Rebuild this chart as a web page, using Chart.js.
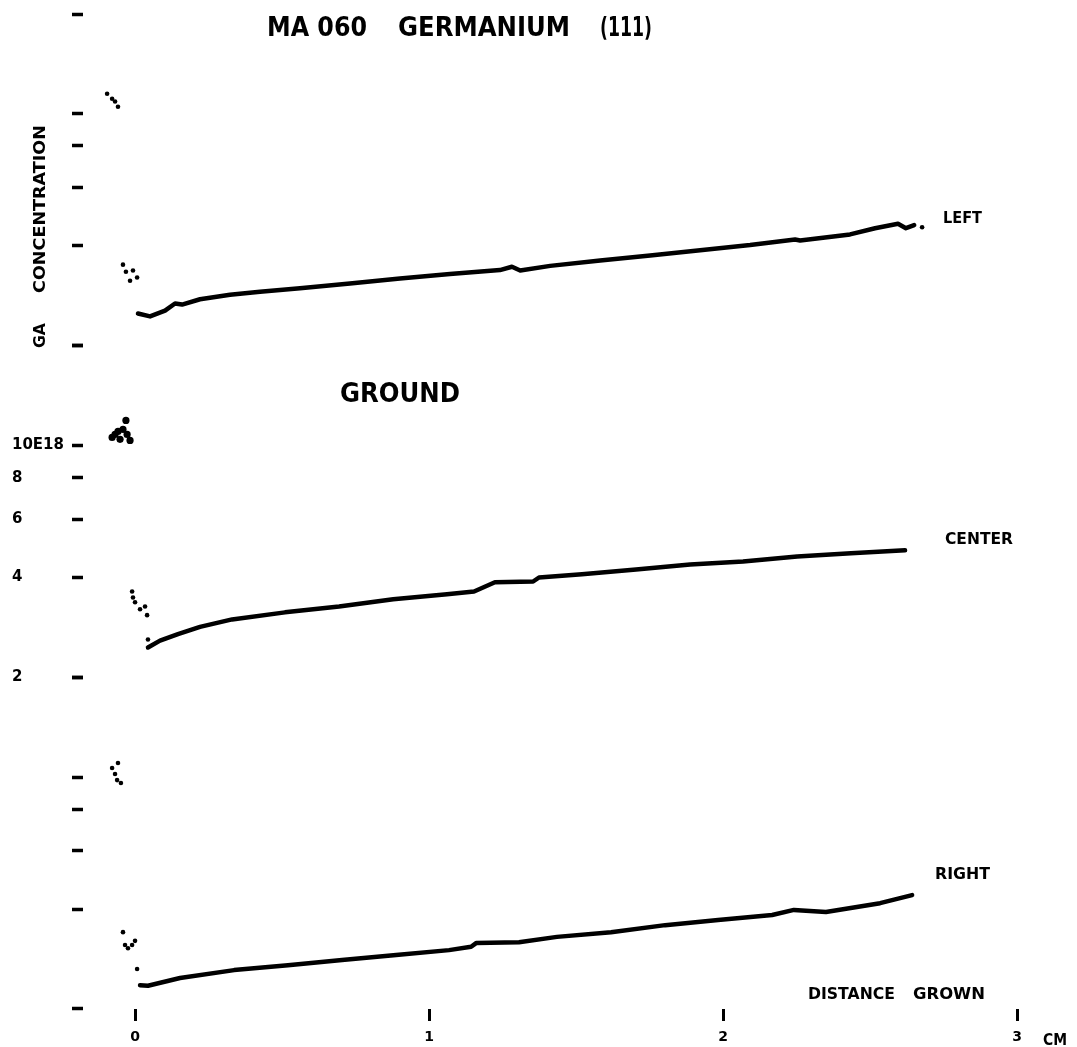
<!DOCTYPE html>
<html>
<head>
<meta charset="utf-8">
<title>MA 060 Germanium (111)</title>
<script src="https://cdn.jsdelivr.net/npm/chart.js@4.4.1/dist/chart.umd.min.js"></script>
<style>
  html, body { margin: 0; padding: 0; background: #fff; }
  #wrap { position: relative; width: 1077px; height: 1047px; }
</style>
</head>
<body>
<div id="wrap"><canvas id="ga-chart"></canvas></div>
<script>
// distance grown (cm) vs Ga concentration (units of 1E18)

// LEFT trace
const leftX = [0.010, 0.051, 0.102, 0.136, 0.160, 0.221, 0.323, 0.425, 0.561, 0.731, 0.901, 1.071, 1.241, 1.282, 1.310, 1.412, 1.582, 1.752, 1.922, 2.092, 2.245, 2.262, 2.432, 2.517, 2.595, 2.622, 2.650]
const leftY = [2.50, 2.45, 2.55, 2.68, 2.66, 2.76, 2.85, 2.91, 2.98, 3.08, 3.19, 3.29, 3.38, 3.46, 3.37, 3.48, 3.61, 3.74, 3.88, 4.02, 4.18, 4.15, 4.33, 4.52, 4.66, 4.52, 4.62]
const leftDotX = [-0.095, -0.078, -0.068, -0.058, -0.041, -0.031, -0.017, -0.007, 0.007, 2.677]
const leftDotY = [11.5, 11.1, 10.9, 10.5, 3.51, 3.34, 3.14, 3.37, 3.21, 4.55]

// CENTER trace
const centerX = [0.044, 0.085, 0.146, 0.221, 0.330, 0.510, 0.694, 0.878, 1.061, 1.153, 1.224, 1.354, 1.374, 1.520, 1.704, 1.888, 2.068, 2.252, 2.435, 2.619]
const centerY = [2.46, 2.58, 2.70, 2.84, 2.99, 3.14, 3.27, 3.44, 3.56, 3.63, 3.87, 3.89, 4.00, 4.09, 4.23, 4.38, 4.47, 4.63, 4.73, 4.83]
const centerDotX = [-0.078, -0.068, -0.058, -0.051, -0.041, -0.031, -0.027, -0.017, -0.010, -0.007, 0.000, 0.017, 0.034, 0.041, 0.044]
const centerDotY = [10.58, 10.8, 11.03, 10.44, 11.18, 11.9, 10.8, 10.36, 3.63, 3.48, 3.37, 3.21, 3.27, 3.08, 2.60]

// RIGHT trace
const rightX = [0.017, 0.044, 0.153, 0.337, 0.520, 0.704, 0.888, 1.068, 1.143, 1.160, 1.306, 1.435, 1.619, 1.803, 1.983, 2.167, 2.241, 2.350, 2.534, 2.643]
const rightY = [2.36, 2.35, 2.48, 2.62, 2.71, 2.81, 2.91, 3.01, 3.08, 3.16, 3.18, 3.30, 3.41, 3.58, 3.71, 3.84, 3.98, 3.92, 4.17, 4.41]
const rightDotX = [-0.078, -0.068, -0.061, -0.058, -0.048, -0.041, -0.034, -0.024, -0.010, 0.000, 0.007]
const rightDotY = [10.66, 10.22, 9.80, 11.03, 9.60, 3.41, 3.12, 3.05, 3.12, 3.21, 2.64]

// axes
const xTickValues = [0, 1, 2, 3]
const yTickValues = [2, 4, 6, 8, 10, 20]
const yTickLabels = ['2', '4', '6', '8', '10E18', '']

// text on the sheet (pixel spans on the 1077x1047 page)
const notes = [
  { text: 'MA 060', left: 267, right: 367, y: 27, size: 26 },
  { text: 'GERMANIUM', left: 398, right: 570, y: 27, size: 26 },
  { text: '(111)', left: 600, right: 652, y: 27, size: 26 },
  { text: 'GROUND', left: 340, right: 460, y: 393, size: 26 },
  { text: 'LEFT', left: 943, right: 982, y: 218, size: 15 },
  { text: 'CENTER', left: 945, right: 1013, y: 539, size: 15 },
  { text: 'RIGHT', left: 935, right: 990, y: 874, size: 15 },
  { text: 'DISTANCE', left: 808, right: 895, y: 994, size: 15 },
  { text: 'GROWN', left: 913, right: 985, y: 994, size: 15 },
  { text: 'CM', left: 1043, right: 1067, y: 1040, size: 15 },
  { text: 'GA', bottom: 348, top: 323, x: 39, size: 16, vertical: true },
  { text: 'CONCENTRATION', bottom: 293, top: 125, x: 39, size: 16, vertical: true }
]

const FONT = '"DejaVu Sans", "Liberation Sans", sans-serif'

const textNotes = {
  id: 'textNotes',
  afterDraw(chart) {
    const ctx = chart.ctx
    notes.forEach(n => {
      ctx.save()
      ctx.font = `bold ${n.size}px ${FONT}`
      ctx.fillStyle = '#000'
      ctx.textAlign = 'left'
      ctx.textBaseline = 'alphabetic'
      const w = ctx.measureText(n.text).width
      const half = n.size * 0.36
      if (n.vertical) {
        ctx.translate(n.x + half, n.bottom)
        ctx.rotate(-Math.PI / 2)
        ctx.scale((n.bottom - n.top) / w, 1)
      } else {
        ctx.translate(n.left, n.y + half)
        ctx.scale((n.right - n.left) / w, 1)
      }
      ctx.fillText(n.text, 0, 0)
      ctx.restore()
    })
  }
}

function pts(xs, ys) {
  return xs.map((x, i) => ({ x: x, y: ys[i] }))
}

function trace(label, xs, ys, axis) {
  return {
    label: label,
    data: pts(xs, ys),
    yAxisID: axis,
    showLine: true,
    borderColor: '#000',
    borderWidth: 4.5,
    borderJoinStyle: 'round',
    borderCapStyle: 'round',
    pointRadius: 0,
    tension: 0
  }
}

function dots(label, xs, ys, axis, bigR) {
  return {
    label: label,
    data: pts(xs, ys),
    yAxisID: axis,
    showLine: false,
    pointRadius: c => (c.raw && c.raw.y > 8 ? bigR : 2.3),
    pointBorderWidth: 0,
    pointBackgroundColor: '#000'
  }
}

function panel(showLabels) {
  return {
    type: 'logarithmic',
    position: 'left',
    stack: 'ga',
    stackWeight: 1,
    min: 2,
    max: 20,
    afterBuildTicks: s => { s.ticks = yTickValues.map(v => ({ value: v })) },
    afterFit: s => { s.width = 71 },
    border: { display: false },
    grid: { drawOnChartArea: false, drawTicks: true, tickLength: 11, tickWidth: 3.5, tickColor: '#000' },
    ticks: {
      autoSkip: false,
      crossAlign: 'far',
      color: '#000',
      font: { family: FONT, weight: 'bold', size: 15 },
      callback: v => showLabels ? yTickLabels[yTickValues.indexOf(v)] : ''
    }
  }
}

const ctx = document.getElementById('ga-chart').getContext('2d')
const chart = new Chart(ctx, {
  type: 'scatter',
  data: {
    datasets: [
      trace('LEFT', leftX, leftY, 'yL'),
      dots('LEFT start', leftDotX, leftDotY, 'yL', 2.3),
      trace('CENTER', centerX, centerY, 'yC'),
      dots('CENTER start', centerDotX, centerDotY, 'yC', 3.6),
      trace('RIGHT', rightX, rightY, 'yR'),
      dots('RIGHT start', rightDotX, rightDotY, 'yR', 2.3)
    ]
  },
  options: {
    responsive: true,
    maintainAspectRatio: false,
    animation: false,
    layout: { padding: { top: 14, left: 12, right: 27, bottom: 0 } },
    plugins: {
      legend: { display: false },
      tooltip: { enabled: false }
    },
    scales: {
      x: {
        type: 'linear',
        min: -0.177,
        max: 3.112,
        afterBuildTicks: s => { s.ticks = xTickValues.map(v => ({ value: v })) },
        afterFit: s => { s.height = 38 },
        border: { display: false },
        grid: { drawOnChartArea: false, tickLength: 12, tickWidth: 3, tickColor: '#000' },
        ticks: {
          autoSkip: false,
          maxRotation: 0,
          padding: 8,
          color: '#000',
          font: { family: FONT, weight: 'bold', size: 14 }
        }
      },
      yR: panel(false),
      yC: panel(true),
      yL: panel(false)
    }
  },
  plugins: [textNotes]
})
</script>
</body>
</html>
